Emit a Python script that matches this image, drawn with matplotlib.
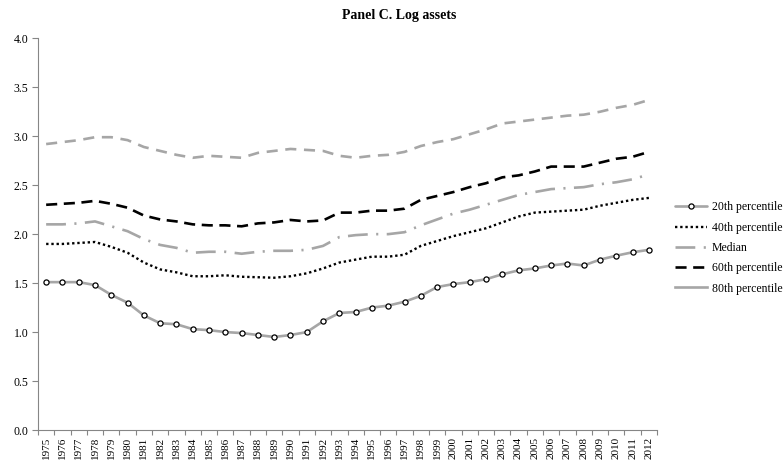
import matplotlib
matplotlib.use("Agg")
import matplotlib.pyplot as plt
from matplotlib.lines import Line2D
import numpy as np

years = [str(y) for y in range(1975, 2013)]

p20 = [1.51, 1.51, 1.51, 1.48, 1.38, 1.30, 1.17, 1.09, 1.08, 1.03,
       1.02, 1.00, 0.99, 0.97, 0.95, 0.97, 1.00, 1.11, 1.195, 1.205,
       1.25, 1.27, 1.31, 1.37, 1.46, 1.49, 1.51, 1.54, 1.59, 1.63,
       1.65, 1.68, 1.70, 1.68, 1.74, 1.78, 1.815, 1.84]
p40 = [1.90, 1.90, 1.91, 1.92, 1.87, 1.81, 1.71, 1.64, 1.61, 1.57,
       1.57, 1.58, 1.565, 1.56, 1.555, 1.57, 1.60, 1.65, 1.71, 1.74,
       1.77, 1.77, 1.79, 1.88, 1.93, 1.98, 2.02, 2.06, 2.12, 2.18,
       2.22, 2.23, 2.24, 2.25, 2.29, 2.32, 2.35, 2.37]
p50 = [2.10, 2.10, 2.11, 2.13, 2.08, 2.03, 1.95, 1.89, 1.86, 1.81,
       1.82, 1.82, 1.80, 1.82, 1.83, 1.83, 1.84, 1.88, 1.97, 1.99,
       2.00, 2.00, 2.02, 2.09, 2.15, 2.21, 2.25, 2.30, 2.35, 2.40,
       2.43, 2.46, 2.47, 2.48, 2.51, 2.53, 2.56, 2.61]
p60 = [2.30, 2.31, 2.32, 2.34, 2.31, 2.27, 2.19, 2.15, 2.13, 2.10,
       2.09, 2.09, 2.08, 2.11, 2.12, 2.145, 2.13, 2.14, 2.22, 2.22,
       2.24, 2.24, 2.26, 2.35, 2.39, 2.43, 2.48, 2.52, 2.58, 2.60,
       2.64, 2.69, 2.69, 2.69, 2.73, 2.77, 2.79, 2.84]
p80 = [2.92, 2.94, 2.96, 2.99, 2.99, 2.96, 2.89, 2.85, 2.81, 2.78,
       2.80, 2.79, 2.78, 2.83, 2.85, 2.87, 2.86, 2.85, 2.80, 2.78,
       2.80, 2.81, 2.84, 2.90, 2.94, 2.97, 3.02, 3.07, 3.13, 3.15,
       3.17, 3.19, 3.21, 3.22, 3.25, 3.29, 3.32, 3.37]

labels = ["20th percentile", "40th percentile", "Median",
          "60th percentile", "80th percentile"]
title = "Panel C. Log assets"
yticks = [0.0, 0.5, 1.0, 1.5, 2.0, 2.5, 3.0, 3.5, 4.0]

plt.rcParams['font.family'] = ['Liberation Serif', 'DejaVu Serif']

W, H = 783, 461
fig = plt.figure(figsize=(W / 100, H / 100), dpi=100)
ax = fig.add_axes([38 / W, (H - 430) / H, (657 - 38) / W, (430 - 38.3) / H])

GRAY = '#A6A6A6'
x = np.arange(len(years))
lw = 1.9

l20, = ax.plot(x, p20, color=GRAY, lw=lw, solid_capstyle='round',
               marker='o', ms=3.7, mfc='white', mec='black', mew=0.9, zorder=3)
l40, = ax.plot(x, p40, color='black', lw=1.7, linestyle=(0, (1.0, 1.2)), zorder=3)
l50, = ax.plot(x, p50, color=GRAY, lw=lw, linestyle=(0, (7.5, 3.2, 0.8, 3.2)), zorder=3)
l60, = ax.plot(x, p60, color='black', lw=lw, linestyle=(0, (4.2, 2.5)), zorder=3)
l80, = ax.plot(x, p80, color=GRAY, lw=lw, linestyle=(0, (4.2, 2.9)), zorder=3)

ax.set_xlim(-0.5, len(years) - 0.5)
ax.set_ylim(0, 4)
ax.set_yticks(yticks)
ax.set_yticklabels([f"{v:.1f}" for v in yticks])
ax.set_xticks(x)
ax.set_xticklabels(years, rotation=90)
ax.set_xticks(np.arange(-0.5, len(years), 1.0), minor=True)

for s in ['top', 'right']:
    ax.spines[s].set_visible(False)
for s in ['left', 'bottom']:
    ax.spines[s].set_color('#868686')
    ax.spines[s].set_linewidth(0.8)

ax.tick_params(axis='y', direction='out', length=4, width=0.8, color='#868686',
               labelsize=8.5, pad=3)
ax.tick_params(axis='x', which='major', length=0, labelsize=8, pad=5)
ax.tick_params(axis='x', which='minor', direction='out', length=3.5, width=0.8,
               color='#868686')

fig.text(399.5 / W, 1 - 15 / H, title, ha='center', va='center',
         fontsize=10, fontweight='bold')

h80 = Line2D([], [], color=GRAY, lw=lw)
leg = fig.legend([l20, l40, l50, l60, h80], labels,
                 loc='center left', bbox_to_anchor=(675 / W, 1 - 248 / H),
                 frameon=False, fontsize=8.5, handlelength=2.7, handletextpad=0.4,
                 labelspacing=0.7, borderpad=0, borderaxespad=0, numpoints=1)

fig.savefig("out.png", dpi=100)
